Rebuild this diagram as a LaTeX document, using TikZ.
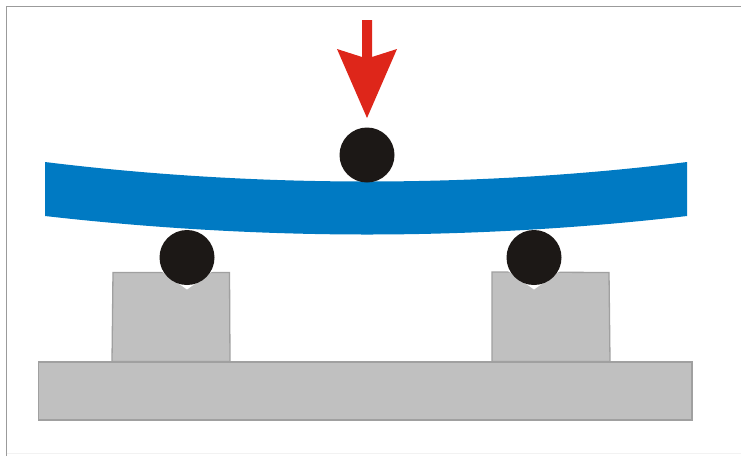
\documentclass[tikz,border=0pt]{standalone}
\definecolor{beamblue}{RGB}{0,122,195}
\definecolor{arrowred}{RGB}{222,38,26}
\definecolor{ballblack}{RGB}{28,24,22}
\definecolor{blockgray}{RGB}{192,192,192}
\definecolor{blockedge}{RGB}{160,160,160}
\definecolor{framegray}{RGB}{155,155,155}
\tikzset{
  block/.style={fill=blockgray,draw=blockedge,line width=1.3pt,line join=miter},
  ball/.style={fill=ballblack,draw=none},
  framing/.style={draw=framegray,line width=1.6pt},
  notch/.style={fill=white,draw=none}
}
\begin{document}
\begin{tikzpicture}[x=1pt,y=-1pt]
\useasboundingbox (0,0) rectangle (741,456);
\fill[white] (0,0) rectangle (741,456);
% frame
\draw[framing] (6.5,456) -- (6.5,6.5) -- (741,6.5);
\draw[draw=black!5,line width=1pt] (6.5,453) -- (741,453);
% base and supports
\draw[block] (38.5,362) rectangle (692,420);
\draw[block] (112,361.5) -- (113,272.5) -- (229.5,272.5) -- (230,361.5) -- cycle;
\draw[block] (492,361.5) -- (492,272) -- (609,272.5) -- (610,361.5) -- cycle;
% notches
\fill[notch] (161,271) -- (187,289.5) -- (213,271) -- cycle;
\fill[notch] (508,271) -- (534,289.5) -- (560,271) -- cycle;
% beam
\fill[beamblue] (45,162) .. controls (150,175) and (260,181.5) .. (367,181.5)
  .. controls (474,181.5) and (584,175) .. (687,162) -- (687,216)
  .. controls (584,228) and (474,234.5) .. (367,234.5)
  .. controls (260,234.5) and (150,228) .. (45,216) -- cycle;
% balls
\fill[ball] (367,155) circle (27.5);
\fill[ball] (187,257.5) circle (27.5);
\fill[ball] (534,257.5) circle (27.5);
% arrow
\fill[arrowred] (362,20) -- (372,20) -- (372,57) -- (397,49) -- (367,118) -- (337,49) -- (362,57) -- cycle;
\end{tikzpicture}
\end{document}
